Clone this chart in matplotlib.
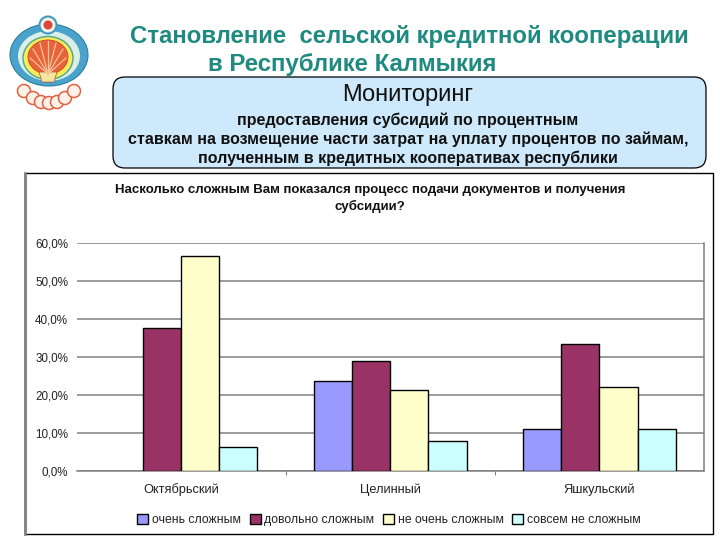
import matplotlib
matplotlib.use('Agg')
import matplotlib.pyplot as plt
from matplotlib.patches import Circle, Ellipse, FancyBboxPatch, Polygon, Rectangle

plt.rcParams['font.family'] = ['Liberation Sans', 'DejaVu Sans']

# Datos del grafico
districts = ['Октябрьский', 'Целинный', 'Яшкульский']
answers = ['очень сложным', 'довольно сложным', 'не очень сложным', 'совсем не сложным']
very_hard = [0.0, 23.7, 11.0]
rather_hard = [37.5, 28.9, 33.5]
not_very_hard = [56.5, 21.3, 22.2]
not_hard = [6.3, 7.9, 11.0]
y_ticks = [0, 10, 20, 30, 40, 50, 60]
y_labels = ['0,0%', '10,0%', '20,0%', '30,0%', '40,0%', '50,0%', '60,0%']
colors = ['#9999FF', '#993366', '#FFFFCC', '#CCFFFF']

W, H = 720, 540
fig = plt.figure(figsize=(W / 100, H / 100), dpi=100)

# Capa de fondo en pixeles para marco, titulos y escudo
bg = fig.add_axes([0, 0, 1, 1])
bg.set_xlim(0, W)
bg.set_ylim(H, 0)
bg.axis('off')

bg.text(130, 36, 'Становление  сельской кредитной кооперации', color='#1F8A80',
        fontsize=17.3, fontweight='bold', va='center', ha='left')
bg.text(208, 64, 'в Республике Калмыкия', color='#1F8A80',
        fontsize=17.3, fontweight='bold', va='center', ha='left')

bg.add_patch(FancyBboxPatch((113, 77), 593, 91, boxstyle='round,pad=0,rounding_size=1',
                            mutation_scale=12, fc='#CDE9FB', ec='black', lw=0.9))
bg.text(408, 95, 'Мониторинг', fontsize=17, ha='center', va='center', color='#111111')
sub_lines = ['предоставления субсидий по процентным',
             'ставкам на возмещение части затрат на уплату процентов по займам,',
             'полученным в кредитных кооперативах республики']
for y, line in zip([120, 139, 158], sub_lines):
    bg.text(408, y, line, fontsize=11.5, fontweight='bold', ha='center', va='center',
            color='#111111')

bg.add_patch(Rectangle((25, 173), 688, 361, fc='white', ec='black', lw=1))
bg.plot([25, 25], [173, 534], color='#808080', lw=2)

bg.text(370, 190, 'Насколько сложным Вам показался процесс подачи документов и получения',
        fontsize=9.5, fontweight='bold', ha='center', va='center', color='#111111')
bg.text(370, 206, 'субсидии?', fontsize=9.5, fontweight='bold', ha='center', va='center',
        color='#111111')

# Escudo aproximado
bg.add_patch(Ellipse((49, 55), 78, 62, fc='#4AA3CC', ec='#2C7F96', lw=0.8))
bg.add_patch(Ellipse((49, 56), 62, 50, fc='#DCEFE6', ec='none'))
bg.add_patch(Ellipse((48, 58), 50, 43, fc='#F8EC5A', ec='#4BA68E', lw=1))
bg.add_patch(Ellipse((48, 57), 40, 34, fc='#E8633A', ec='#C9482A', lw=0.6))
for x_end, y_end in [(30, 58), (33, 49), (40, 43), (48, 41), (56, 43), (63, 49), (66, 58)]:
    bg.plot([48, x_end], [74, y_end], color='#F9C49A', lw=0.9)
bg.add_patch(Polygon([[39, 72], [57, 72], [54, 82], [42, 82]], fc='#F3E7A0', ec='#C9482A', lw=0.5))
for cx, cy in [(24, 91), (33, 98), (41, 102), (49, 103), (57, 102), (65, 98), (74, 91)]:
    bg.add_patch(Circle((cx, cy), 6.5, fc='#FDF1EA', ec='#E0603F', lw=1.1))
bg.add_patch(Circle((48, 25), 8.5, fc='#F4F1E4', ec='#3E9CC4', lw=1.5))
bg.add_patch(Circle((48, 25), 4.5, fc='#D9483A', ec='none'))

# Grafico de barras
left, right, top, bottom = 76.5, 704, 242.7, 471.3
ax = fig.add_axes([left / W, 1 - bottom / H, (right - left) / W, (bottom - top) / H])
ax.patch.set_alpha(0)
ax.set_xlim(0, 3)
ax.set_ylim(0, 60)

bar_w = 0.1825
series = [very_hard, rather_hard, not_very_hard, not_hard]
for i, (values, color) in enumerate(zip(series, colors)):
    xs = [g + 0.5 + (i - 1.5) * bar_w for g in range(3)]
    # sin borde para las barras en cero
    widths = [1 if v > 0 else 0 for v in values]
    ax.bar(xs, values, width=bar_w, color=color, edgecolor='black', linewidth=widths,
           label=answers[i], zorder=3)

ax.set_yticks(y_ticks)
ax.set_yticklabels(y_labels, fontsize=8.4, color='#222222')
ax.set_xticks([1, 2])
ax.set_xticklabels([])
ax.tick_params(axis='y', length=0, pad=6)
ax.tick_params(axis='x', length=3, color='#808080')
ax.grid(axis='y', color='#808080', lw=1.1, zorder=0)
ax.set_axisbelow(True)
for side in ['left', 'top']:
    ax.spines[side].set_visible(False)
for side in ['right', 'bottom']:
    ax.spines[side].set_color('#808080')
    ax.spines[side].set_linewidth(1.1)
for g, name in enumerate(districts):
    ax.text(g + 0.5, -4.9, name, fontsize=9.2, ha='center', va='center', color='#222222',
            clip_on=False)

leg = ax.legend(loc='center', bbox_to_anchor=((389 - left) / (right - left), (bottom - 520) / (bottom - top)),
                ncol=4, frameon=False, fontsize=8.8, handlelength=0.9, handleheight=0.9,
                handletextpad=0.3, columnspacing=0.7, labelcolor='#222222', borderpad=0,
                borderaxespad=0)
for handle in leg.get_patches():
    handle.set_linewidth(1)

fig.savefig('out.png', dpi=100)
